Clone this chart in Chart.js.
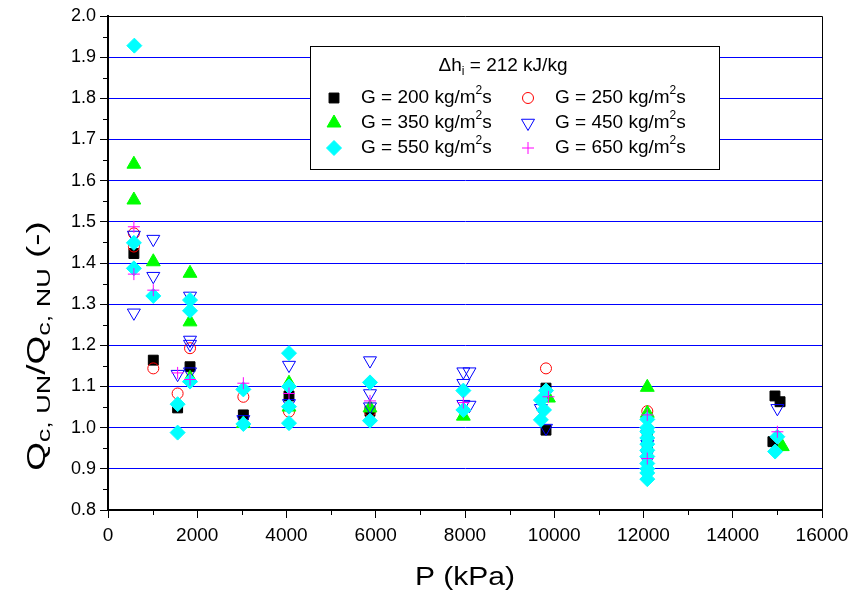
<!DOCTYPE html>
<html>
<head>
<meta charset="utf-8">
<script src="https://cdn.jsdelivr.net/npm/chart.js@4.4.1/dist/chart.umd.min.js"></script>
<style>
	body { margin: 0; background: #ffffff; }
	canvas { display: block; }
</style>
</head>
<body>
<canvas id="grafico" width="855" height="595"></canvas>
<script>
// pressao (kPa) e razao Qc,UN/Qc,NU, uma serie por fluxo de massa G
const p200 = [580, 1015, 1560, 1838, 3033, 4056, 5871, 9815, 9815, 12085, 12085, 14946, 15060, 14900];
const q200 = [1.423, 1.164, 1.048, 1.148, 1.031, 1.077, 1.040, 1.096, 0.994, 0.975, 0.955, 1.077, 1.063, 0.966];

const p250 = [580, 580, 1015, 1560, 1838, 3033, 4056, 5871, 9815, 12085];
const q250 = [1.472, 1.440, 1.144, 1.083, 1.193, 1.075, 1.039, 1.040, 1.144, 1.040];

const p350 = [580, 580, 1015, 1838, 1838, 1838, 3033, 4056, 4056, 5871, 7963, 9870, 12085, 12085, 15110];
const q350 = [1.640, 1.553, 1.403, 1.375, 1.257, 1.120, 1.010, 1.108, 1.050, 1.048, 1.028, 1.072, 1.098, 1.035, 0.954];

const p450 = [580, 580, 1015, 1015, 1560, 1838, 1838, 1838, 1838, 3033, 4056, 4056, 5871, 5871, 5871,
	7963, 8100, 7963, 7963, 8100, 9700, 9815, 12085, 12085, 12085, 12085, 15000];
const q450 = [1.468, 1.279, 1.458, 1.368, 1.130, 1.320, 1.213, 1.203, 1.136, 1.020, 1.152, 1.059, 1.163, 1.083, 1.051,
	1.136, 1.136, 1.108, 1.057, 1.055, 1.047, 0.999, 0.985, 0.960, 0.935, 0.920, 1.047];

const p550 = [590, 580, 580, 1015, 1560, 1560, 1838, 1838, 1838, 3033, 3033, 4056, 4056, 4056, 4056, 5871, 5871,
	7963, 7963, 9815, 9700, 9770, 9700, 12085, 12085, 12085, 12085, 12085, 12085, 12085, 12085, 12085, 12085, 12085,
	15000, 14950];
const q550 = [1.928, 1.449, 1.387, 1.320, 1.057, 0.988, 1.310, 1.284, 1.112, 1.093, 1.009, 1.181, 1.100, 1.051, 1.011, 1.110, 1.017,
	1.090, 1.043, 1.090, 1.067, 1.043, 1.019, 1.020, 1.000, 0.990, 0.975, 0.960, 0.945, 0.930, 0.913, 0.900, 0.890, 0.875,
	0.978, 0.942];

const p650 = [580, 580, 1015, 1560, 1838, 3033, 4056, 5871, 7963, 9870, 12085, 12085, 15000];
const q650 = [1.488, 1.373, 1.334, 1.133, 1.117, 1.108, 1.083, 1.065, 1.061, 1.075, 1.031, 0.925, 0.990];

const rotulosG = ['200', '250', '350', '450', '550', '650'];

function montaPontos(pressoes, razoes) {
	return pressoes.map((p, i) => ({ x: p, y: razoes[i] }));
}

// estilos dos marcadores (mesma ordem de rotulosG)
const estilos = [
	{ style: 'rect', r: 7, fill: '#000000', stroke: '#000000', rot: 0, bw: 1 },
	{ style: 'circle', r: 5.5, fill: 'rgba(0,0,0,0)', stroke: '#ff0000', rot: 0, bw: 1 },
	{ style: 'triangle', r: 8, fill: '#00ff00', stroke: '#00ff00', rot: 0, bw: 1 },
	{ style: 'triangle', r: 7.5, fill: 'rgba(0,0,0,0)', stroke: '#0000ff', rot: 180, bw: 1 },
	{ style: 'rectRot', r: 7.5, fill: '#00ffff', stroke: '#00ffff', rot: 0, bw: 1 },
	{ style: 'cross', r: 6, fill: '#ff00ff', stroke: '#ff00ff', rot: 0, bw: 1 }
];
const ordens = [5, 4, 3, 2, 1, 0];
const series = [[p200, q200], [p250, q250], [p350, q350], [p450, q450], [p550, q550], [p650, q650]];

const FONTE = '"Liberation Sans", Arial, sans-serif';

// desenha texto com sub/sobrescritos: partes = [{t, size, dy}]
function textoRico(ctx, partes, x, y) {
	let cx = x;
	partes.forEach(pt => {
		ctx.font = pt.size + 'px ' + FONTE;
		ctx.fillText(pt.t, cx, y + (pt.dy || 0));
		cx += ctx.measureText(pt.t).width;
	});
	return cx - x;
}

function larguraRica(ctx, partes) {
	let w = 0;
	partes.forEach(pt => {
		ctx.font = pt.size + 'px ' + FONTE;
		w += ctx.measureText(pt.t).width;
	});
	return w;
}

function marcador(ctx, est, x, y) {
	Chart.helpers.drawPoint(ctx, {
		pointStyle: est.style,
		radius: est.r,
		rotation: est.rot,
		borderWidth: est.bw
	}, x, y);
}

const pluginMoldura = {
	id: 'moldura',
	afterDraw(chart) {
		const ctx = chart.ctx;
		const area = chart.chartArea;
		const sx = chart.scales.x;
		const sy = chart.scales.y;
		ctx.save();

		// bordas de cima e da direita
		ctx.strokeStyle = '#000000';
		ctx.lineWidth = 1;
		ctx.beginPath();
		ctx.moveTo(area.left, area.top + 0.5);
		ctx.lineTo(area.right + 0.5, area.top + 0.5);
		ctx.lineTo(area.right + 0.5, area.bottom);
		ctx.stroke();

		// ticks menores
		ctx.lineWidth = 1;
		ctx.beginPath();
		for (let v = 1000; v < 16000; v += 2000) {
			const px = Math.round(sx.getPixelForValue(v)) + 0.5;
			ctx.moveTo(px, area.bottom);
			ctx.lineTo(px, area.bottom + 5);
		}
		for (let v = 0.85; v < 2.0; v += 0.1) {
			const py = Math.round(sy.getPixelForValue(v)) + 0.5;
			ctx.moveTo(area.left, py);
			ctx.lineTo(area.left - 5, py);
		}
		ctx.stroke();

		// legenda
		const lx = 310, ly = 46, lw = 409, lh = 123;
		ctx.fillStyle = '#ffffff';
		ctx.fillRect(lx, ly, lw, lh);
		ctx.strokeStyle = '#000000';
		ctx.lineWidth = 1;
		ctx.strokeRect(lx + 0.5, ly + 0.5, lw, lh);

		ctx.fillStyle = '#000000';
		ctx.textBaseline = 'middle';
		ctx.textAlign = 'left';
		const titulo = [
			{ t: '\u0394h', size: 19 },
			{ t: 'i', size: 12, dy: 6 },
			{ t: ' = 212 kJ/kg', size: 19 }
		];
		const wt = larguraRica(ctx, titulo);
		textoRico(ctx, titulo, 503 - wt / 2, 66);

		const colSimb = [334, 528];
		const colTexto = [361, 555];
		const linhas = [98, 123, 148];
		rotulosG.forEach((g, i) => {
			const col = i % 2;
			const lin = Math.floor(i / 2);
			const est = estilos[i];
			ctx.fillStyle = est.fill;
			ctx.strokeStyle = est.stroke;
			ctx.lineWidth = est.bw;
			marcador(ctx, est, colSimb[col], linhas[lin]);
			ctx.fillStyle = '#000000';
			textoRico(ctx, [
				{ t: 'G = ' + g + ' kg/m', size: 19 },
				{ t: '2', size: 12, dy: -7 },
				{ t: 's', size: 19 }
			], colTexto[col], linhas[lin]);
		});

		// titulo do eixo x
		ctx.fillStyle = '#000000';
		ctx.save();
		ctx.translate(465, 578);
		ctx.scale(1.2, 1);
		const tx = [{ t: 'P (kPa)', size: 25 }];
		textoRico(ctx, tx, -larguraRica(ctx, tx) / 2, 0);
		ctx.restore();

		// titulo do eixo y
		ctx.save();
		ctx.translate(38, 346);
		ctx.rotate(-Math.PI / 2);
		ctx.scale(1.42, 1);
		const ty = [
			{ t: 'Q', size: 26 },
			{ t: 'c, UN', size: 19, dy: 7 },
			{ t: '/Q', size: 26 },
			{ t: 'c, NU', size: 19, dy: 7 },
			{ t: ' (-)', size: 26 }
		];
		textoRico(ctx, ty, -larguraRica(ctx, ty) / 2, 0);
		ctx.restore();

		ctx.restore();
	}
};

function montaChart() {
	const ctx = document.getElementById('grafico').getContext('2d');
	return new Chart(ctx, {
		type: 'scatter',
		data: {
			datasets: series.map((s, i) => ({
				label: 'G = ' + rotulosG[i] + ' kg/m\u00B2s',
				data: montaPontos(s[0], s[1]),
				order: ordens[i],
				pointStyle: estilos[i].style,
				pointRadius: estilos[i].r,
				pointHoverRadius: estilos[i].r,
				pointRotation: estilos[i].rot,
				pointBackgroundColor: estilos[i].fill,
				pointBorderColor: estilos[i].stroke,
				pointBorderWidth: estilos[i].bw,
				showLine: false
			}))
		},
		options: {
			responsive: false,
			animation: false,
			devicePixelRatio: 1,
			layout: {
				padding: { left: 0, top: 16, right: 33, bottom: 0 }
			},
			scales: {
				x: {
					type: 'linear',
					min: 0,
					max: 16000,
					afterFit: (scale) => { scale.height = 85; },
					border: { color: '#000000', width: 2 },
					grid: {
						drawOnChartArea: false,
						drawTicks: true,
						tickLength: 8,
						tickColor: '#000000',
						tickWidth: 1
					},
					ticks: {
						stepSize: 2000,
						padding: 6,
						color: '#000000',
						maxRotation: 0,
						font: { family: FONTE, size: 19 },
						callback: (v) => String(v)
					},
					title: { display: false }
				},
				y: {
					min: 0.8,
					max: 2.0,
					afterFit: (scale) => { scale.width = 108; },
					border: { color: '#000000', width: 2 },
					grid: {
						color: (c) => {
							const v = Math.round(c.tick.value * 10);
							return (v === 8 || v === 20) ? 'rgba(0,0,0,0)' : '#0000ff';
						},
						lineWidth: 1,
						drawTicks: true,
						tickLength: 8,
						tickColor: '#000000',
						tickWidth: 1
					},
					ticks: {
						stepSize: 0.1,
						padding: 4,
						color: '#000000',
						font: { family: FONTE, size: 18 },
						callback: (v) => v.toFixed(1)
					},
					title: { display: false }
				}
			},
			plugins: {
				legend: { display: false },
				tooltip: { enabled: false }
			}
		},
		plugins: [pluginMoldura]
	});
}

window.onload = () => {
	montaChart();
}
</script>
</body>
</html>
